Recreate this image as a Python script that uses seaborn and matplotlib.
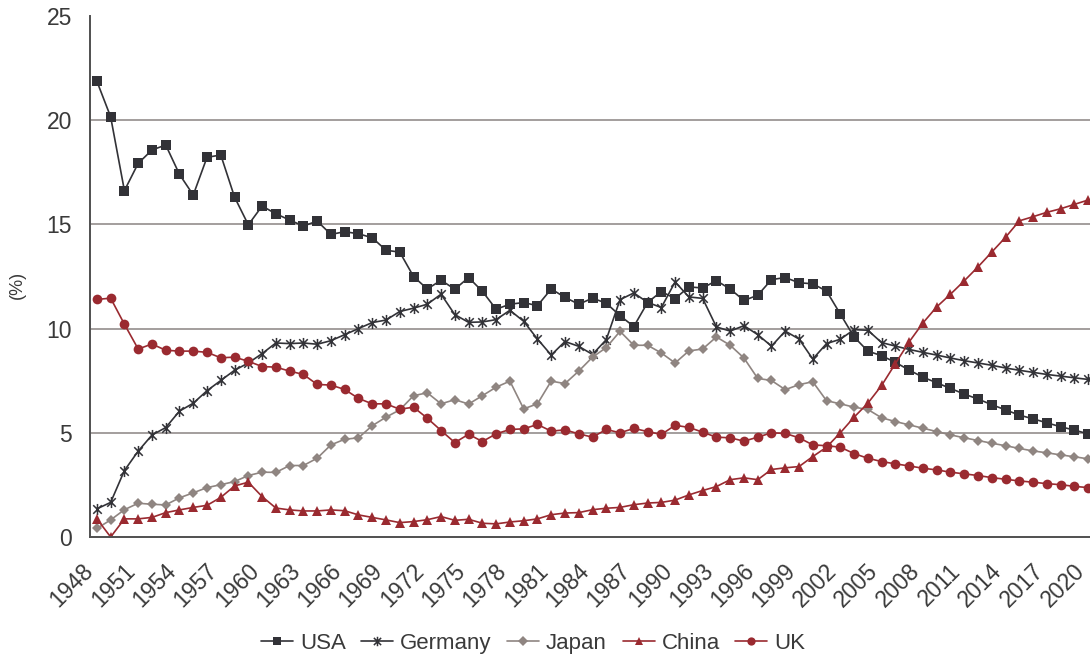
import numpy as np
import pandas as pd
import matplotlib
matplotlib.use("Agg")
import matplotlib.pyplot as plt
from matplotlib.path import Path
from matplotlib.transforms import ScaledTranslation
import seaborn as sns


years = list(range(1948, 2021))

usa = [21.87, 20.16, 16.62, 17.93, 18.57, 18.81, 17.40, 16.41, 18.22, 18.33, 16.31, 14.98,
       15.88, 15.51, 15.21, 14.92, 15.16, 14.52, 14.65, 14.55, 14.36, 13.76,
       13.67, 12.50, 11.90, 12.32, 11.89, 12.45, 11.79, 10.93, 11.17, 11.25,
       11.10, 11.90, 11.50, 11.17, 11.46, 11.22, 10.62, 10.10, 11.25, 11.78,
       11.44, 12.00, 11.95, 12.30, 11.90, 11.35, 11.60, 12.35, 12.45, 12.20,
       12.15, 11.80, 10.70, 9.60, 8.92, 8.70, 8.38, 8.01, 7.67, 7.40,
       7.13, 6.86, 6.62, 6.35, 6.10, 5.85, 5.67, 5.48, 5.29, 5.13,
       4.95]

germany = [1.35, 1.66, 3.19, 4.12, 4.89, 5.25, 6.04, 6.42, 7.02, 7.51, 8.00, 8.35,
           8.80, 9.31, 9.28, 9.31, 9.25, 9.42, 9.71, 10.00, 10.29, 10.41,
           10.82, 10.98, 11.17, 11.65, 10.67, 10.30, 10.32, 10.43, 10.88, 10.35,
           9.50, 8.73, 9.38, 9.15, 8.76, 9.47, 11.39, 11.71, 11.26, 11.01,
           12.24, 11.52, 11.45, 10.08, 9.88, 10.14, 9.71, 9.16, 9.88, 9.50,
           8.54, 9.28, 9.49, 9.95, 9.92, 9.33, 9.16, 9.00, 8.86, 8.73,
           8.59, 8.46, 8.35, 8.24, 8.11, 8.00, 7.90, 7.80, 7.72, 7.64,
           7.56]

japan = [0.41, 0.82, 1.31, 1.62, 1.57, 1.54, 1.88, 2.12, 2.37, 2.51, 2.66, 2.95,
         3.11, 3.10, 3.43, 3.43, 3.78, 4.42, 4.69, 4.76, 5.34, 5.75,
         6.10, 6.78, 6.92, 6.39, 6.59, 6.38, 6.78, 7.19, 7.48, 6.15,
         6.39, 7.48, 7.36, 7.96, 8.63, 9.09, 9.87, 9.20, 9.20, 8.83,
         8.35, 8.93, 9.02, 9.60, 9.20, 8.59, 7.61, 7.51, 7.07, 7.31,
         7.45, 6.54, 6.39, 6.23, 6.12, 5.72, 5.54, 5.38, 5.22, 5.06,
         4.90, 4.76, 4.63, 4.50, 4.38, 4.25, 4.13, 4.04, 3.94, 3.85,
         3.75]

china = [0.87, 0.00, 0.87, 0.87, 0.94, 1.17, 1.30, 1.42, 1.52, 1.90, 2.45, 2.63,
         1.94, 1.39, 1.30, 1.25, 1.25, 1.30, 1.26, 1.06, 0.94, 0.82,
         0.69, 0.74, 0.83, 0.98, 0.80, 0.85, 0.66, 0.63, 0.72, 0.78,
         0.87, 1.07, 1.15, 1.17, 1.31, 1.38, 1.42, 1.55, 1.63, 1.66,
         1.77, 2.02, 2.23, 2.42, 2.75, 2.84, 2.75, 3.24, 3.32, 3.38,
         3.86, 4.31, 5.00, 5.75, 6.42, 7.27, 8.32, 9.36, 10.27, 11.04,
         11.65, 12.29, 12.96, 13.67, 14.38, 15.17, 15.37, 15.58, 15.75, 15.96,
         16.17]

uk = [11.40, 11.46, 10.21, 9.02, 9.26, 8.96, 8.92, 8.92, 8.86, 8.60, 8.63, 8.43,
      8.18, 8.15, 7.96, 7.80, 7.32, 7.29, 7.08, 6.65, 6.39, 6.39,
      6.13, 6.23, 5.70, 5.11, 4.53, 4.93, 4.58, 4.95, 5.16, 5.19,
      5.40, 5.08, 5.14, 4.95, 4.79, 5.16, 5.00, 5.21, 5.06, 4.92,
      5.36, 5.26, 5.03, 4.79, 4.76, 4.60, 4.79, 5.00, 4.97, 4.76,
      4.42, 4.38, 4.31, 4.00, 3.78, 3.62, 3.51, 3.41, 3.30, 3.22,
      3.11, 3.03, 2.95, 2.85, 2.77, 2.69, 2.63, 2.56, 2.51, 2.43,
      2.37]

df = pd.DataFrame({"year": years, "USA": usa, "Germany": germany,
                   "Japan": japan, "China": china, "UK": uk})
df = df.melt(id_vars="year", var_name="country", value_name="share")

sns.set_style("white")
plt.rcParams['font.family'] = ['Liberation Sans', 'DejaVu Sans']

dark = "#323237"
grey = "#8f8581"
red = "#9a2a30"
text_col = "#3a3a3a"

# excel-like asterisk: an x with a vertical bar through it
star = Path([(-1, -1), (1, 1), (-1, 1), (1, -1), (0, -1.3), (0, 1.3)],
            [Path.MOVETO, Path.LINETO] * 3)

styles = {
    "USA": dict(color=dark, marker="s", markersize=6.5, mew=0, mec=dark),
    "Germany": dict(color=dark, marker=star, markersize=8, mew=1.1, mec=dark),
    "Japan": dict(color=grey, marker="D", markersize=5.5, mew=0, mec=grey),
    "China": dict(color=red, marker="^", markersize=7, mew=0, mec=red),
    "UK": dict(color=red, marker="o", markersize=7, mew=0, mec=red),
}

fig = plt.figure(figsize=(10.9, 6.6), dpi=100)
ax = fig.add_axes([90 / 1090, 123 / 660, 1005 / 1090, 521 / 660])

for v in [5, 10, 15, 20]:
    ax.axhline(v, color="#8a8482", lw=1.1, zorder=0)

for name, kw in styles.items():
    sns.lineplot(data=df[df["country"] == name], x="year", y="share", ax=ax,
                 lw=1.2, label=name, **kw)

ax.set_xlim(1947.5, 2020.5)
ax.set_ylim(0, 25)
ax.set_xlabel("")
ax.set_ylabel("(%)", fontsize=13, color=text_col)
ax.yaxis.set_label_coords(-0.064, 0.484)

for s in ["top", "right"]:
    ax.spines[s].set_visible(False)
for s in ["left", "bottom"]:
    ax.spines[s].set_color("#505050")
    ax.spines[s].set_linewidth(1.4)

ax.set_yticks([0, 5, 10, 15, 20, 25])
ax.tick_params(axis="y", length=0, pad=13, labelsize=16.5, labelcolor=text_col)

ax.set_xticks(list(range(1948, 2021, 3)))
ax.set_xticks(np.arange(1947.5, 2021, 1), minor=True)
ax.tick_params(axis="x", which="major", length=0, pad=16, labelsize=16.5,
               labelcolor=text_col)
ax.tick_params(axis="x", which="minor", length=4, width=1, color="#606060",
               direction="out")
shift = ScaledTranslation(-15 / 100, 0, fig.dpi_scale_trans)
for lab in ax.get_xticklabels():
    lab.set_rotation(45)
    lab.set_ha("right")
    lab.set_va("top")
    lab.set_rotation_mode("anchor")
    lab.set_transform(lab.get_transform() + shift)

handles, labels = ax.get_legend_handles_labels()
ax.get_legend().remove()
leg = fig.legend(handles, labels, loc="center", bbox_to_anchor=(0.489, 0.025),
                 ncol=5, frameon=False, fontsize=16, handlelength=1.45,
                 columnspacing=0.7, handletextpad=0.3, markerscale=0.85)
for t in leg.get_texts():
    t.set_color(text_col)

fig.savefig("out.png", dpi=100)
